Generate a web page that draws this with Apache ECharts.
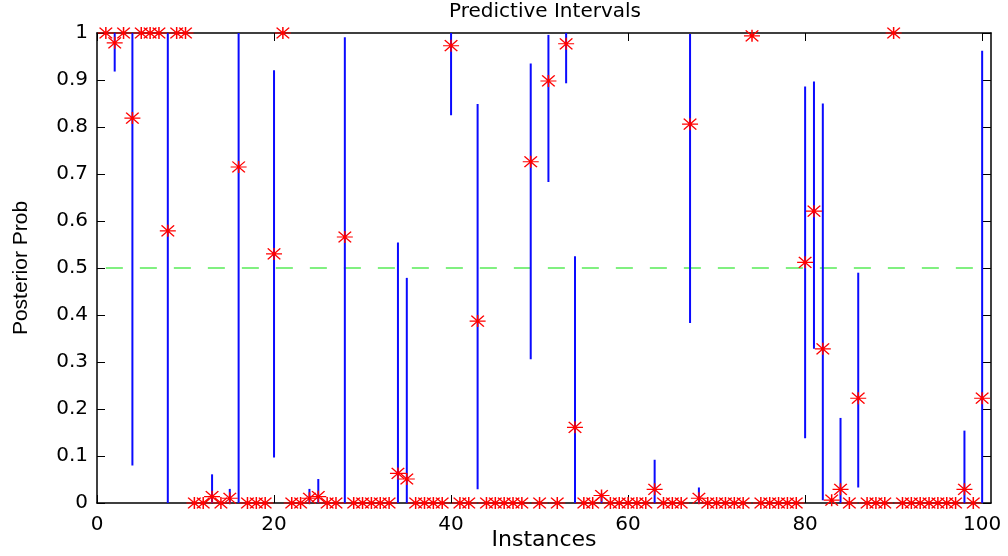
<!DOCTYPE html>
<html>
<head>
<meta charset="utf-8">
<script src="https://cdn.jsdelivr.net/npm/echarts@6/dist/echarts.min.js"></script>
<style>html,body{margin:0;padding:0;background:#fff}#c{width:1008px;height:556px}</style>
</head>
<body>
<div id="c"></div>
<script>
// ---- data ----
const instances = Array.from({length: 100}, (_, i) => i + 1);
const posterior = [
  1, 0.979, 1, 0.819, 1, 1, 1, 0.579, 1, 1,
  0, 0, 0.0135, 0, 0.01, 0.715, 0, 0, 0, 0.530,
  1, 0, 0, 0.01, 0.0135, 0, 0, 0.566, 0, 0,
  0, 0, 0, 0.063, 0.051, 0, 0, 0, 0, 0.973,
  0, 0, 0.387, 0, 0, 0, 0, 0, 0.726, 0,
  0.898, 0, 0.977, 0.161, 0, 0, 0.016, 0, 0, 0,
  0, 0, 0.029, 0, 0, 0, 0.806, 0.01, 0, 0,
  0, 0, 0, 0.994, 0, 0, 0, 0, 0, 0.512,
  0.621, 0.328, 0.006, 0.029, 0, 0.223, 0, 0, 0, 1,
  0, 0, 0, 0, 0, 0, 0, 0.029, 0, 0.223
];
const intervalLow = [
  1, 0.918, 1, 0.08, 1, 1, 1, 0, 1, 1,
  0, 0, 0, 0, 0, 0, 0, 0, 0, 0.097,
  1, 0, 0, 0, 0, 0, 0, 0, 0, 0,
  0, 0, 0, 0, 0, 0, 0, 0, 0, 0.825,
  0, 0, 0.029, 0, 0, 0, 0, 0, 0.306, 0,
  0.683, 0, 0.893, 0, 0, 0, 0, 0, 0, 0,
  0, 0, 0, 0, 0, 0, 0.383, 0, 0, 0,
  0, 0, 0, 0.994, 0, 0, 0, 0, 0, 0.138,
  0.328, 0.006, 0.006, 0, 0, 0.033, 0, 0, 0, 1,
  0, 0, 0, 0, 0, 0, 0, 0, 0, 0
];
const intervalHigh = [
  1, 1, 1, 1, 1, 1, 1, 1, 1, 1,
  0, 0, 0.061, 0, 0.03, 1, 0, 0, 0, 0.921,
  1, 0, 0, 0.03, 0.051, 0, 0, 0.991, 0, 0,
  0, 0, 0, 0.554, 0.479, 0, 0, 0, 0, 1,
  0, 0, 0.849, 0, 0, 0, 0, 0, 0.935, 0,
  0.996, 0, 1, 0.525, 0, 0, 0.02, 0, 0, 0,
  0, 0, 0.092, 0, 0, 0, 0.998, 0.033, 0, 0,
  0, 0, 0, 0.994, 0, 0, 0, 0, 0, 0.886,
  0.897, 0.850, 0.006, 0.181, 0, 0.490, 0, 0, 0, 1,
  0, 0, 0, 0, 0, 0, 0, 0.154, 0, 0.962
];
const xTickValues = [0, 20, 40, 60, 80, 100];
const yTickValues = [0, 0.1, 0.2, 0.3, 0.4, 0.5, 0.6, 0.7, 0.8, 0.9, 1];
const thresholdLine = [[1, 0.5], [100, 0.5]];
const titleText = 'Predictive Intervals';
const xLabelText = 'Instances';
const yLabelText = 'Posterior Prob';

// ---- build ----
const starData = instances.map((x, i) => [x, posterior[i]]);
const intervalData = instances.map((x, i) => [x, intervalLow[i], intervalHigh[i]])
  .filter(d => d[2] > d[1]);

const tickFont = {fontFamily: 'DejaVu Sans', fontSize: 20, color: '#000'};
const axisLineStyle = {color: '#000', width: 1.5};
const tickStyle = {color: '#000', width: 1};

function xAxisDef(pos, showLabel) {
  return {
    type: 'value', position: pos, min: 0, max: 101, interval: 20,
    axisLine: {show: true, onZero: false, lineStyle: axisLineStyle},
    axisTick: {show: true, inside: true, length: 8, customValues: xTickValues, lineStyle: tickStyle},
    axisLabel: Object.assign({show: showLabel, margin: 12, customValues: xTickValues}, tickFont),
    splitLine: {show: false}
  };
}
function yAxisDef(pos, showLabel) {
  return {
    type: 'value', position: pos, min: 0, max: 1, interval: 0.1,
    axisLine: {show: true, onZero: false, lineStyle: axisLineStyle},
    axisTick: {show: true, inside: true, length: 8, customValues: yTickValues, lineStyle: tickStyle},
    axisLabel: Object.assign({show: showLabel, margin: 9, customValues: yTickValues,
      formatter: v => String(Math.round(v * 10) / 10)}, tickFont),
    splitLine: {show: false}
  };
}

const chart = echarts.init(document.getElementById('c'), null, {renderer: 'canvas'});
chart.setOption({
  animation: false,
  backgroundColor: '#fff',
  grid: {left: 97, right: 17, top: 33, bottom: 53, containLabel: false},
  xAxis: [xAxisDef('bottom', true), xAxisDef('top', false)],
  yAxis: [yAxisDef('left', true), yAxisDef('right', false)],
  graphic: [
    {type: 'text', x: 545, y: 12, style: {text: titleText, font: '20px "DejaVu Sans"', fill: '#000', align: 'center', verticalAlign: 'middle'}},
    {type: 'text', x: 544, y: 529, style: {text: xLabelText, font: '22px "DejaVu Sans"', fill: '#000', align: 'center', verticalAlign: 'top'}},
    {type: 'text', x: 21, y: 268, rotation: Math.PI / 2,
     style: {text: yLabelText, font: '21px "Liberation Sans Narrow", "Liberation Sans"', fill: '#000', align: 'center', verticalAlign: 'middle'}}
  ],
  series: [
    {
      type: 'line', data: thresholdLine, xAxisIndex: 0, yAxisIndex: 0,
      symbol: 'none', silent: true, z: 1,
      lineStyle: {color: '#80f080', width: 2, type: [17, 17]}
    },
    {
      type: 'custom', data: intervalData, xAxisIndex: 0, yAxisIndex: 0, z: 2, silent: true, clip: false,
      renderItem: function (params, api) {
        const x = api.value(0), lo = api.value(1), hi = api.value(2);
        const p1 = api.coord([x, lo]);
        const p2 = api.coord([x, hi]);
        return {type: 'line', shape: {x1: p1[0], y1: p1[1], x2: p2[0], y2: p2[1]},
                style: {stroke: '#0a0aff', lineWidth: 2}};
      }
    },
    {
      type: 'scatter', data: starData, xAxisIndex: 0, yAxisIndex: 0, z: 3, silent: true, clip: false,
      symbol: 'path://M7,0L7,11M0,5.5L14,5.5M1.5,0.5L12.5,10.5M1.5,10.5L12.5,0.5',
      symbolSize: [16, 12],
      itemStyle: {color: '#ff0000', borderColor: '#ff0000', borderWidth: 1.3, opacity: 1}
    }
  ]
});
</script>
</body>
</html>
